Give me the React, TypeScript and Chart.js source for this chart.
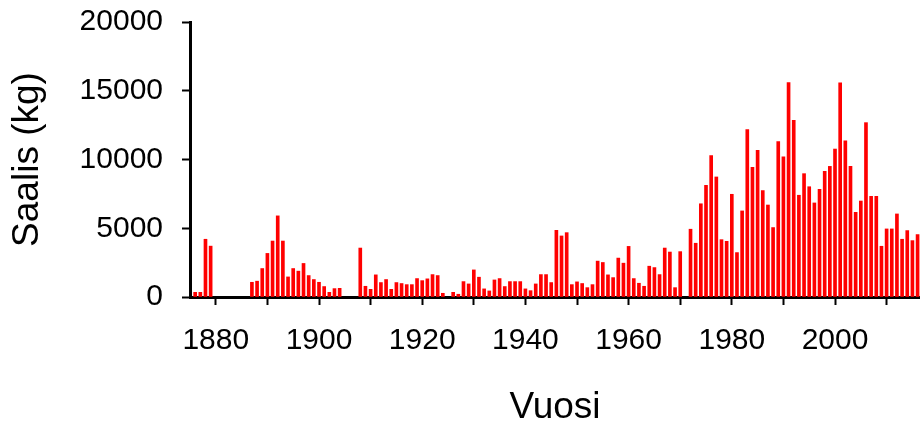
import React, { useEffect, useRef } from "react";
import { Chart, registerables } from "chart.js";

Chart.register(...registerables);

// First year of the series; each following value is one year later.
const startYear = 1876;

// Annual catch (kg); null = no record for that year.
const catchKg: (number | null)[] = [
  // 1876-1879
  340, 340, 4200, 3700,
  // 1880-1886
  null, null, null, null, null, null, null,
  // 1887-1904
  1070, 1150, 2070, 3170, 4070, 5900, 4070, 1460, 2070, 1880, 2440, 1560, 1270, 1070, 760, 340, 610, 630,
  // 1905-1907
  null, null, null,
  // 1908-1924
  3560, 780, 560, 1610, 1050, 1270, 560, 1050, 980, 900, 900, 1340, 1190, 1320, 1630, 1560, 270,
  // 1925
  null,
  // 1926-1970
  340, 200, 1120, 950, 1970, 1440, 590, 440, 1240, 1340, 760, 1120, 1120, 1120, 590, 460, 950, 1630, 1630, 1050,
  4850, 4440, 4680, 900, 1100, 980, 680, 900, 2610, 2510, 1610, 1410, 2830, 2460, 3680, 1340, 1000, 780, 2240, 2140,
  1630, 3560, 3270, 680, 3300,
  // 1971
  null,
  // 1972-2016
  4930, 3910, 6780, 8120, 10280, 8730, 4170, 4050, 7470, 3230, 6260, 12170, 9430, 10670, 7740, 6690, 5050, 11300,
  10200, 15590, 12850, 7400, 8970, 8020, 6840, 7830, 9140, 9500, 10760, 15570, 11350, 9500, 6160, 6980, 12680, 7320,
  7320, 3690, 4950, 4950, 6040, 4200, 4830, 4100, 4540,
];

const xMin = 1875;
const xMax = 2016.47;
// Tick marks on the year axis; only those in xLabels get text.
const xTickValues = [1880, 1890, 1900, 1910, 1920, 1930, 1940, 1950, 1960, 1970, 1980, 1990, 2000, 2010];
const xLabels = [1880, 1900, 1920, 1940, 1960, 1980, 2000];
const yMin = 0;
const yMax = 20000;
const yStep = 5000;

const xTitle = "Vuosi";
const yTitle = "Saalis (kg)";

const FONT = "'Liberation Sans', Arial, sans-serif";

export default function App() {
  const ref = useRef<HTMLCanvasElement>(null);

  useEffect(() => {
    if (!ref.current) return;
    const points = catchKg.map((v, i) => ({ x: startYear + i, y: v }));
    const chart = new Chart(ref.current, {
      type: "bar",
      data: {
        datasets: [
          {
            data: points as any,
            backgroundColor: "#ff0000",
            borderWidth: 0,
            barThickness: 3,
          },
        ],
      },
      options: {
        animation: false,
        responsive: false,
        plugins: { legend: { display: false }, tooltip: { enabled: false } },
        layout: { padding: { top: 22, left: 0, right: 0, bottom: 0 } },
        scales: {
          x: {
            type: "linear",
            min: xMin,
            max: xMax,
            offset: false,
            afterBuildTicks: (s: any) => {
              s.ticks = xTickValues.map((value) => ({ value }));
            },
            afterFit: (s: any) => {
              s.height = 126;
              s.paddingLeft = 0;
              s.paddingRight = 0;
            },
            ticks: {
              autoSkip: false,
              maxRotation: 0,
              minRotation: 0,
              padding: 18,
              color: "#000",
              font: { family: FONT, size: 30 },
              callback: (v: any) => (xLabels.includes(Number(v)) ? String(v) : ""),
            },
            grid: {
              offset: false,
              drawOnChartArea: false,
              drawTicks: true,
              tickLength: 8,
              tickWidth: 2,
              tickColor: "#000",
            },
            border: { display: true, color: "#000", width: 3 },
            title: {
              display: true,
              text: xTitle,
              color: "#000",
              font: { family: FONT, size: 37 },
              padding: { top: 0, bottom: -7 },
            },
          } as any,
          y: {
            min: yMin,
            max: yMax,
            afterFit: (s: any) => {
              s.width = 190;
              s.paddingTop = 0;
              s.paddingBottom = 0;
            },
            ticks: {
              stepSize: yStep,
              padding: 19,
              color: "#000",
              font: { family: FONT, size: 30 },
              callback: (v: any) => String(v),
            },
            grid: {
              drawOnChartArea: false,
              drawTicks: true,
              tickLength: 8,
              tickWidth: 2,
              tickColor: "#000",
            },
            border: { display: true, color: "#000", width: 3 },
            title: {
              display: true,
              text: yTitle,
              color: "#000",
              font: { family: FONT, size: 37 },
              padding: { top: 6, bottom: 0 },
            },
          },
        },
      },
    });
    return () => chart.destroy();
  }, []);

  return (
    <div
      style={{
        position: "fixed",
        left: 0,
        top: 0,
        width: 920,
        height: 423,
        overflow: "hidden",
        background: "#fff",
      }}
    >
      <canvas ref={ref} width={920} height={423} style={{ display: "block", width: 920, height: 423 }} />
    </div>
  );
}
